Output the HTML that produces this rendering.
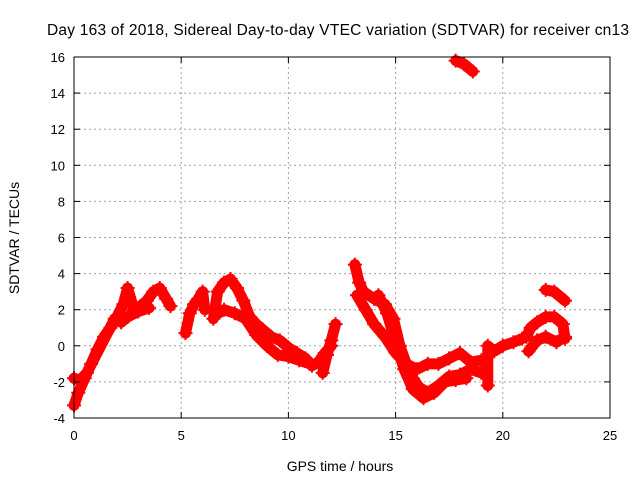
<!DOCTYPE html>
<html><head><meta charset="utf-8"><style>
body{margin:0;background:#fff}
svg{display:block;font-family:"Liberation Sans",sans-serif}
</style></head><body>
<svg id="c" width="640" height="480" xmlns="http://www.w3.org/2000/svg">
<text x="338" y="35" text-anchor="middle" font-size="15.5" textLength="582">Day 163 of 2018, Sidereal Day-to-day VTEC variation (SDTVAR) for receiver cn13</text>
<text x="340" y="471" text-anchor="middle" font-size="14">GPS time / hours</text>
<text transform="translate(19,238) rotate(-90)" text-anchor="middle" font-size="14">SDTVAR / TECUs</text>
<g id="grid"></g><g id="marks"></g>
<rect x="74" y="57" width="536" height="361" fill="none" stroke="#000" stroke-width="1"/>
<g id="ticks"></g>
</svg>
<script>
const xTicks=[0,5,10,15,20,25];
const yTicks=[-4,-2,0,2,4,6,8,10,12,14,16];
const traceA_h=[0,0.2,0.5,0.8,1.1,1.4,1.7,2.0,2.3,2.5,2.8,3.1,3.4,3.7,4.0,4.3,4.5];
const traceA_v=[-3.3,-2.6,-1.8,-1.0,-0.2,0.5,1.0,1.6,2.3,3.2,2.0,2.2,2.5,3.0,3.2,2.6,2.2];
const traceA2_h=[0,0.3,0.6,1.9,2.2,2.5,3.0,3.5];
const traceA2_v=[-1.8,-1.9,-1.5,1.5,1.3,1.6,1.9,2.1];
const traceB_h=[5.2,5.4,5.6,5.8,6.0,6.1];
const traceB_v=[0.7,1.8,2.3,2.6,3.0,2.0];
const traceC_h=[6.5,6.7,7.0,7.3,7.6,7.9,8.2,8.5,8.8,9.2,9.6,10,10.4,10.8,11.1,11.4,11.7,12.0];
const traceC_v=[1.5,3.0,3.5,3.7,3.2,2.5,1.6,1.2,0.9,0.5,0.3,-0.1,-0.4,-0.7,-1.1,-0.9,-0.4,0.0];
const traceC2_h=[6.6,7.0,7.5,8.0,8.5,9.0,9.5,10,10.5,11];
const traceC2_v=[1.7,2.0,1.8,1.5,0.6,0.0,-0.5,-0.6,-0.8,-1.0];
const traceD_h=[11.6,11.8,12.0,12.2];
const traceD_v=[-1.5,-0.5,0.3,1.2];
const traceE_h=[13.1,13.3,13.5,14.0,14.5,14.9,15.2,15.5,15.8,16.1,16.5,17,17.5,18,18.5,19];
const traceE_v=[4.5,3.5,3.0,2.6,2.3,1.5,0.0,-1.0,-1.8,-2.3,-2.6,-2.2,-1.7,-1.6,-1.3,-1.5];
const traceE2_h=[13.2,13.6,14.0,14.5,15,15.5,16,16.5,17,17.5,18,18.5,19];
const traceE2_v=[2.8,2.0,1.2,0.5,-0.4,-1.0,-1.3,-1.0,-1.0,-0.7,-0.4,-0.9,-0.8];
const traceE3_h=[14.2,14.6,15,15.4,15.8,16.3,16.8,17.3,17.8,18.3];
const traceE3_v=[2.8,1.8,0.2,-1.3,-2.4,-2.9,-2.6,-2.0,-1.9,-1.8];
const traceF_h=[19.3,19.3,19.6,20,20.5,20.9];
const traceF_v=[-2.2,0.0,-0.3,0.0,0.2,0.4];
const traceG_h=[21.1,21.3,21.6,22,22.4,22.8,22.9];
const traceG_v=[0.5,1.0,1.3,1.6,1.6,1.2,0.4];
const traceG2_h=[21.2,21.6,22,22.5,22.9];
const traceG2_v=[-0.3,0.3,0.5,0.2,0.5];
const traceH_h=[22.0,22.4,22.9];
const traceH_v=[3.1,3.0,2.5];
const traceI_h=[17.8,18.2,18.6];
const traceI_v=[15.8,15.6,15.2];
const traces=[[traceA_h,traceA_v],[traceA2_h,traceA2_v],[traceB_h,traceB_v],[traceC_h,traceC_v],[traceC2_h,traceC2_v],[traceD_h,traceD_v],[traceE_h,traceE_v],[traceE2_h,traceE2_v],[traceE3_h,traceE3_v],[traceF_h,traceF_v],[traceG_h,traceG_v],[traceG2_h,traceG2_v],[traceH_h,traceH_v],[traceI_h,traceI_v]];
const NS='http://www.w3.org/2000/svg';
const X0=74,X1=610,Y0=418,Y1=57;
function sx(h){return X0+(h-0)/(25-0)*(X1-X0);}
function sy(v){return Y0-(v+4)/(16+4)*(Y0-Y1);}
function mk(t,a,p){const e=document.createElementNS(NS,t);for(const k in a)e.setAttribute(k,a[k]);p.appendChild(e);return e;}
const grid=document.getElementById('grid'),ticks=document.getElementById('ticks'),marks=document.getElementById('marks');
xTicks.forEach(t=>{const x=sx(t);
 if(t>0&&t<25){const g=mk('line',{x1:x,x2:x,y1:Y1,y2:Y0,stroke:'#a0a0a0','stroke-dasharray':'2,3'},grid);
 
 }
 mk('line',{x1:x,x2:x,y1:Y0,y2:Y0-6,stroke:'#000'},ticks);mk('line',{x1:x,x2:x,y1:Y1,y2:Y1+6,stroke:'#000'},ticks);
 const l=mk('text',{x:x,y:Y0+22,'text-anchor':'middle','font-size':'13'},ticks);l.textContent=t;
 
 });
yTicks.forEach(t=>{const y=sy(t);
 if(t>-4&&t<16){const g=mk('line',{x1:X0,x2:X1,y1:y,y2:y,stroke:'#a0a0a0','stroke-dasharray':'2,3'},grid);
 
 }
 mk('line',{x1:X0,x2:X0+6,y1:y,y2:y,stroke:'#000'},ticks);mk('line',{x1:X1,x2:X1-6,y1:y,y2:y,stroke:'#000'},ticks);
 const l=mk('text',{x:X0-9,y:y+5,'text-anchor':'end','font-size':'13'},ticks);l.textContent=t;
 
 });
traces.forEach(([hs,vs])=>{
 const pts=hs.map((h,i)=>sx(h)+','+sy(vs[i])).join(' ');
 const pl=mk('polyline',{points:pts,fill:'none',stroke:'#ff0000','stroke-width':'11','stroke-linejoin':'round','stroke-linecap':'round'},marks);
 
 
 hs.forEach((h,i)=>{const x=sx(h),y=sy(vs[i]);
  const p=mk('path',{d:`M${x-7},${y}H${x+7}M${x},${y-7}V${y+7}`,stroke:'#ff0000','stroke-width':'2'},marks);
  
  });
});
</script>
</body></html>
